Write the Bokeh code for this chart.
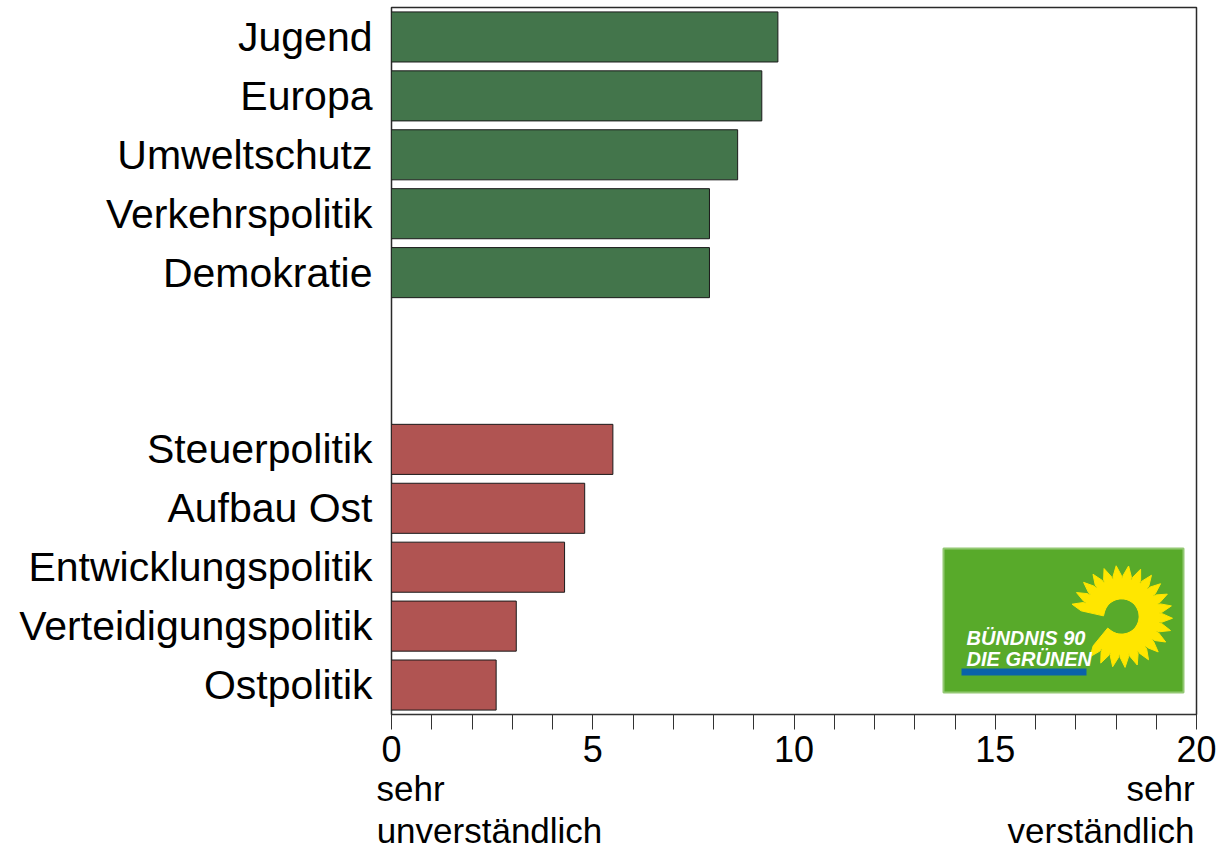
import numpy as np
from bokeh.plotting import figure
from bokeh.models import Range1d, FixedTicker, LinearAxis
from bokeh.core.properties import value
from bokeh.embed import file_html
from bokeh.resources import INLINE

# ---------------- data ----------------
green_cats = ["Jugend", "Europa", "Umweltschutz", "Verkehrspolitik", "Demokratie"]
green_vals = [9.6, 9.2, 8.6, 7.9, 7.9]
red_cats = ["Steuerpolitik", "Aufbau Ost", "Entwicklungspolitik", "Verteidigungspolitik", "Ostpolitik"]
red_vals = [5.5, 4.8, 4.3, 3.1, 2.6]
gap_slots = 2
x_ticks = list(range(0, 21))
x_labelled = [0, 5, 10, 15, 20]
note_rows = [("sehr", "sehr"), ("unverständlich", "verständlich")]
logo_lines = ["BÜNDNIS 90", "DIE GRÜNEN"]

# ---------------- layout (canvas pixels) ----------------
W, H = 1217, 852
FL, FT, FR, FB = 391, 7, 1196, 714
BL, BT, BR, BB = FL, FT, W - FR, H - FB
n_slots = len(green_cats) + gap_slots + len(red_cats)
Y0, Y1 = -0.5, n_slots - 0.5
X0, X1 = 0, 20
PX = (FR - FL) / (X1 - X0)
PY = (FB - FT) / (Y1 - Y0)

def xa(cx):
    return X0 + (cx - FL) / PX

def ya(cy):
    return Y1 - (cy - FT) / PY

GREEN = "#43754B"
RED = "#B05452"
FONT = "Liberation Sans"

g_pos = [n_slots - 1 - i for i in range(len(green_cats))]
r_pos = [len(red_cats) - 1 - i for i in range(len(red_cats))]

p = figure(width=W, height=H, output_backend="svg", toolbar_location=None,
           x_range=Range1d(X0, X1), y_range=Range1d(Y0, Y1),
           min_border_left=BL, min_border_right=BR, min_border_top=BT,
           min_border_bottom=BB)
p.grid.visible = False
p.background_fill_color = "white"
p.border_fill_color = "white"
p.outline_line_color = "#2a2a2a"
p.outline_line_width = 1.5

p.hbar(y=g_pos, right=green_vals, left=0, height=0.85,
       fill_color=GREEN, line_color="#1a1a1a", line_width=1)
p.hbar(y=r_pos, right=red_vals, left=0, height=0.85,
       fill_color=RED, line_color="#1a1a1a", line_width=1)

# y axis
p.yaxis.ticker = FixedTicker(ticks=g_pos + r_pos)
p.yaxis.major_label_overrides = {float(k): v for k, v in zip(g_pos + r_pos, green_cats + red_cats)}
p.yaxis.major_label_text_font = FONT
p.yaxis.major_label_text_font_size = "41px"
p.yaxis.major_label_text_color = "black"
p.yaxis.major_label_standoff = 19
p.yaxis.major_tick_out = 0
p.yaxis.major_tick_in = 0
p.yaxis.minor_tick_out = 0
p.yaxis.minor_tick_in = 0
p.yaxis.axis_line_color = None

# x axis
p.xaxis.ticker = FixedTicker(ticks=x_ticks)
p.xaxis.major_label_overrides = {float(t): ("" if t not in x_labelled else str(t)) for t in x_ticks}
p.xaxis.major_label_text_font = FONT
p.xaxis.major_label_text_font_size = "36px"
p.xaxis.major_label_text_color = "black"
p.xaxis.major_label_standoff = 6
p.xaxis.major_tick_out = 15
p.xaxis.major_tick_in = 0
p.xaxis.minor_tick_out = 0
p.xaxis.minor_tick_in = 0
p.xaxis.axis_line_color = "#333333"
p.xaxis.major_tick_line_color = "#333333"

# notes under the axis: extra label-only axes
NOTE_PX = 35
NOTE_LEFT_EDGE = FL - 15
NOTE_RIGHT_EDGE = FR - 2
note_widths = {"sehr": 68, "unverständlich": 226, "verständlich": 187}
note_standoffs = [4, 0]
for (left_t, right_t), so in zip(note_rows, note_standoffs):
    cl = xa(NOTE_LEFT_EDGE + note_widths[left_t] / 2)
    cr = xa(NOTE_RIGHT_EDGE - note_widths[right_t] / 2)
    ax = LinearAxis(ticker=FixedTicker(ticks=[cl, cr]),
                    major_label_overrides={cl: left_t, cr: right_t},
                    axis_line_color=None, major_tick_line_color=None,
                    minor_tick_line_color=None, major_tick_out=0, major_tick_in=0,
                    minor_tick_out=0, minor_tick_in=0, major_label_standoff=so,
                    major_label_text_font=FONT,
                    major_label_text_font_size=f"{NOTE_PX}px",
                    major_label_text_color="black")
    p.add_layout(ax, "below")

# ---------------- logo (decoration) ----------------
LG = "#58AA2A"
YEL = "#FFE600"
p.quad(left=xa(FR - 253), right=xa(FR - 13), bottom=ya(692), top=ya(548),
       fill_color=LG, line_color="#93C873", line_width=2)

cx, cy = xa(FR - 75), ya(616)
ang = np.deg2rad(np.arange(-128, 170, 14))
pxs, pys = [], []
for a in ang:
    r_in, r_out, hw = 18, 51, np.deg2rad(12)
    xs = [cx + r_in * np.cos(a - hw) / PX, cx + 0.8 * r_out * np.cos(a - hw / 2) / PX,
          cx + r_out * np.cos(a) / PX,
          cx + 0.8 * r_out * np.cos(a + hw / 2) / PX, cx + r_in * np.cos(a + hw) / PX]
    ys = [cy + r_in * np.sin(a - hw) / PY, cy + 0.8 * r_out * np.sin(a - hw / 2) / PY,
          cy + r_out * np.sin(a) / PY,
          cy + 0.8 * r_out * np.sin(a + hw / 2) / PY, cy + r_in * np.sin(a + hw) / PY]
    pxs.append(xs)
    pys.append(ys)
p.patches(xs=pxs, ys=pys, fill_color=YEL, line_color=YEL, line_width=1)
p.annular_wedge(x=[cx], y=[cy], inner_radius=20, outer_radius=38,
                inner_radius_units="screen", outer_radius_units="screen",
                start_angle=np.deg2rad(-132), end_angle=np.deg2rad(172),
                fill_color=YEL, line_color=None)

for t, base in zip(logo_lines, [637, 658]):
    p.text(x=[xa(FR - 230)], y=[ya(base)], text=[t], text_font=value(FONT),
           text_font_style="bold italic", text_font_size="20px", text_color="white",
           text_align="left", text_baseline="alphabetic")
p.quad(left=xa(FR - 235), right=xa(FR - 110), bottom=ya(675), top=ya(668),
       fill_color="#0A62A8", line_color=None)

open("out.html", "w").write(file_html(p, INLINE))
